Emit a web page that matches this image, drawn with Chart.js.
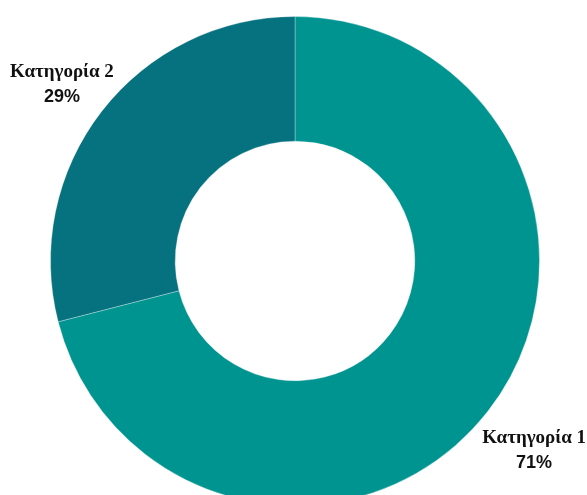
<!DOCTYPE html>
<html>
<head>
<meta charset="utf-8">
<script src="https://cdn.jsdelivr.net/npm/chart.js@4"></script>
<style>
  html, body { margin: 0; padding: 0; overflow: hidden; background: #fff; }
  #wrap { position: absolute; left: 0; top: 0; width: 587px; height: 506px; }
</style>
</head>
<body>
<div id="wrap"><canvas id="pie"></canvas></div>
<script>
const categories = ['Κατηγορία 1', 'Κατηγορία 2'];
const values = [71, 29];
const colors = ['#009490', '#06727F'];

// labels outside the ring, along each slice's middle angle
const outsideLabels = {
  id: 'outsideLabels',
  afterDatasetsDraw(chart) {
    const c = chart.ctx;
    const meta = chart.getDatasetMeta(0);
    c.save();
    c.textAlign = 'center';
    c.textBaseline = 'middle';
    c.fillStyle = '#111';
    meta.data.forEach((arc, i) => {
      const mid = (arc.startAngle + arc.endAngle) / 2;
      let x = arc.x + Math.cos(mid) * (arc.outerRadius + 60);
      const y = arc.y + Math.sin(mid) * (arc.outerRadius + 54);
      c.font = 'bold 19px "Liberation Serif"';
      const w = c.measureText(categories[i]).width;
      x = Math.min(Math.max(x, w / 2 + 10), chart.width - w / 2 - 1);
      c.fillText(categories[i], x, y - 6);
      c.font = 'bold 18px "Liberation Sans"';
      c.fillText(values[i] + '%', x, y + 19);
    });
    c.restore();
  }
};

new Chart(document.getElementById('pie'), {
  type: 'doughnut',
  data: {
    labels: categories,
    datasets: [{
      data: values,
      backgroundColor: colors,
      borderColor: 'rgba(255,255,255,0.3)',
      borderWidth: 1
    }]
  },
  options: {
    responsive: true,
    maintainAspectRatio: false,
    animation: false,
    cutout: '49%',
    layout: { padding: { left: 3, top: 16, right: 0, bottom: 0 } },
    plugins: {
      legend: { display: false },
      tooltip: { enabled: false }
    }
  },
  plugins: [outsideLabels]
});
</script>
</body>
</html>
